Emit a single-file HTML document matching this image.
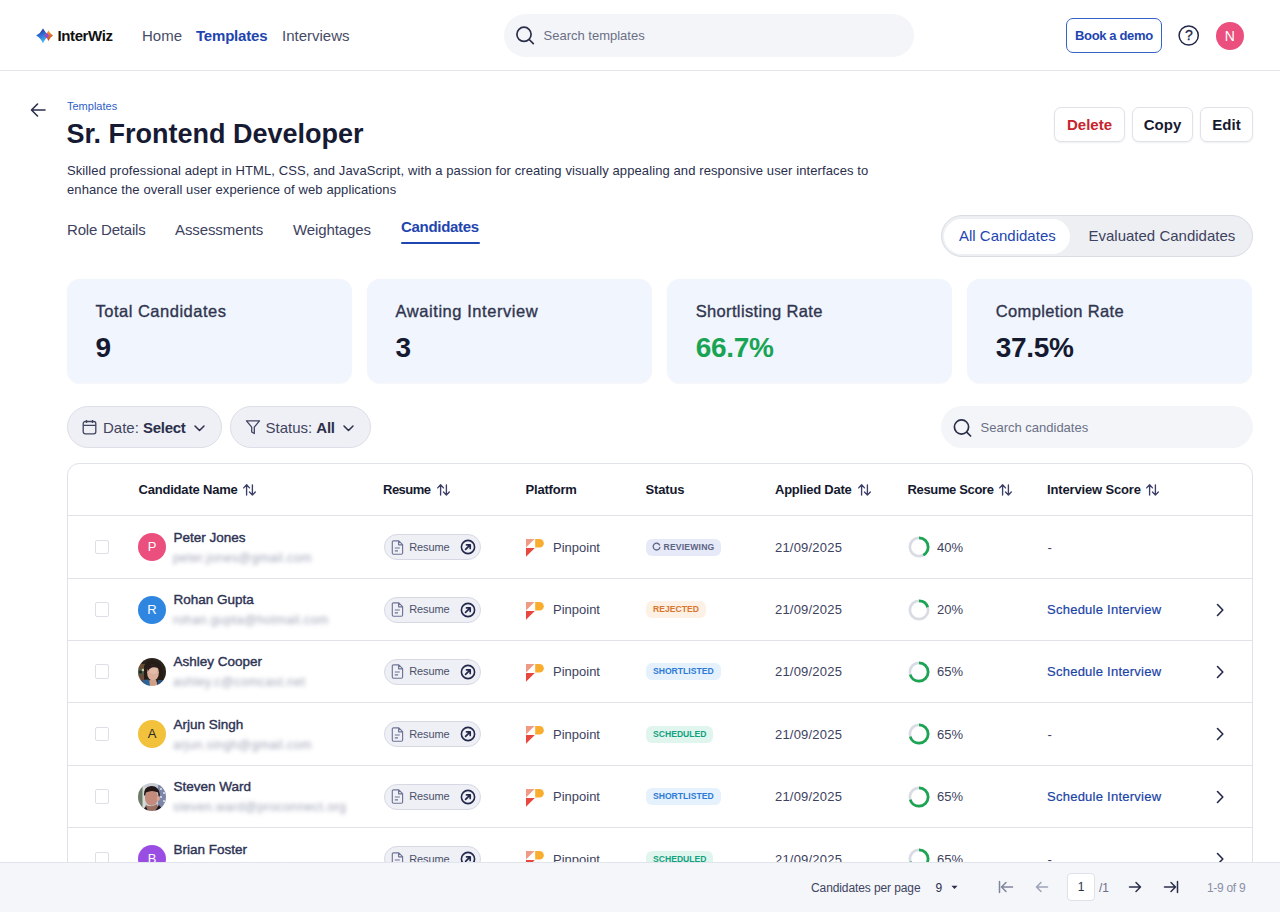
<!DOCTYPE html>
<html><head><meta charset="utf-8">
<style>
*{box-sizing:border-box;margin:0;padding:0}
html,body{width:1280px;height:912px;overflow:hidden;background:#fff;font-family:"Liberation Sans",Arial,sans-serif;color:#1b1f3b}
.a{position:absolute;white-space:nowrap}
.sb{-webkit-text-stroke:.35px currentColor}
.md{-webkit-text-stroke:.35px currentColor}
.rg{-webkit-text-stroke:.15px currentColor}
#hdr{position:absolute;left:0;top:0;width:1280px;height:71px;border-bottom:1px solid #e4e6eb;background:#fff}
.nav{font-size:15px;color:#474c66;top:27px}
.search{position:absolute;border-radius:22px;background:#f3f5f9}
.btn{position:absolute;top:106.5px;height:35px;border:1px solid #dfe2e8;border-radius:7px;background:#fff;font-weight:700;font-size:15px;line-height:33px;text-align:center;box-shadow:0 1px 2px rgba(20,30,60,.07)}
.card{position:absolute;top:278.5px;width:285.3px;height:104.5px;border-radius:13px;background:#f0f5fe;box-shadow:0 .5px 1px rgba(70,80,140,.05)}
.card .l{position:absolute;left:29px;top:23px;font-size:16.5px;color:#30354f;letter-spacing:.35px}
.card .v{position:absolute;left:29px;top:53px;font-size:28px;font-weight:700;color:#161a30;letter-spacing:-.3px}
.pill{position:absolute;top:406px;height:42px;border-radius:21px;background:#eff0f5;border:1px solid #dcdfe7}
.th{position:absolute;top:482px;font-size:13px;font-weight:700;color:#15192e}
.srt{position:absolute;top:483.5px}
.cb{position:absolute;width:14px;height:14px;border:1px solid #dcdfe6;border-radius:2px;background:#fff}
.av{position:absolute;width:28px;height:28px;border-radius:50%;color:#fff;font-size:13px;text-align:center;line-height:28px}
.nm{position:absolute;font-size:13.5px;color:#2e3354;-webkit-text-stroke:.4px #2e3354}
.em{position:absolute;font-size:12.5px;color:#a0a5b8;filter:blur(2.3px);letter-spacing:.38px}
.res{position:absolute;width:97px;height:26px;border-radius:13px;background:#eef0f6;border:1px solid #d6d9e3}
.res span{position:absolute;left:24.3px;top:5.5px;font-size:11px;color:#4a4f68;letter-spacing:-.15px}
.ppt{position:absolute;font-size:13px;color:#3d4260}
.st{position:absolute;height:17px;border-radius:6px;font-size:8.6px;font-weight:700;letter-spacing:0;line-height:17px;padding:0 7px}
.dt{position:absolute;font-size:13px;color:#3d4260;letter-spacing:.2px}
.pct{position:absolute;font-size:13px;color:#3d4260}
.is{position:absolute;font-size:13px;color:#1a43a6;letter-spacing:.25px;-webkit-text-stroke:.2px #1a43a6}
.dash{position:absolute;font-size:13px;color:#3d4260}
#ftr{position:absolute;left:0;top:862px;width:1280px;height:50px;background:#f4f6fa;border-top:1px solid #e1e4ea}
</style></head>
<body>
<div id="hdr">
  <svg class="a" style="left:35px;top:27px" width="20" height="18" viewBox="0 0 20 18">
    <defs><linearGradient id="lg1" x1="0.2" y1="0" x2="0.6" y2="1"><stop offset="0" stop-color="#1d2f8c"/><stop offset="0.45" stop-color="#2f6fd6"/><stop offset="1" stop-color="#46c6f2"/></linearGradient>
    <linearGradient id="lg2" x1="0.3" y1="0" x2="0.7" y2="1"><stop offset="0" stop-color="#f6a832"/><stop offset="0.5" stop-color="#e7772a"/><stop offset="1" stop-color="#b8331c"/></linearGradient>
    <linearGradient id="lg3" x1="0" y1="0" x2="1" y2="0"><stop offset="0" stop-color="#8a3ad8"/><stop offset="1" stop-color="#9a55d0"/></linearGradient></defs>
    <path d="M1.2 8.5 Q5.7 6.2 8 1.6 Q10.3 6.2 14.7 8.5 Q10.2 11.1 8 16.3 Q5.75 11.1 1.2 8.5 Z" fill="url(#lg1)"/>
    <path d="M9 8.5 Q12 6.85 13.5 3.6 Q15 6.85 18 8.5 Q15 10.4 13.5 13.9 Q12 10.4 9 8.5 Z" fill="url(#lg2)"/>
    <path d="M9 8.5 Q11 7.3 11.8 5.7 Q12.9 7.4 14.7 8.5 Q12.9 9.6 11.8 11.3 Q11 9.7 9 8.5 Z" fill="url(#lg3)"/>
  </svg>
  <div class="a" style="left:57.5px;top:27px;font-size:15px;font-weight:700;color:#111;letter-spacing:-.4px">InterWiz</div>
  <div class="a nav" style="left:142px">Home</div>
  <div class="a nav" style="left:196px;color:#1e45b0;font-weight:700;letter-spacing:-.2px">Templates</div>
  <div class="a nav" style="left:282px">Interviews</div>
  <div class="search" style="left:504px;top:14px;width:410px;height:43px"></div>
  <svg class="a" style="left:514px;top:24px" width="22" height="22" viewBox="0 0 22 22"><circle cx="10" cy="10.3" r="7.1" fill="none" stroke="#2b2f4a" stroke-width="1.7"/><path d="M15.2 15.5 L19.3 19.6" stroke="#2b2f4a" stroke-width="1.7" stroke-linecap="round"/></svg>
  <div class="a" style="left:543.5px;top:28px;font-size:13px;color:#6b7086">Search templates</div>
  <div class="a" style="left:1066px;top:18px;width:96px;height:35px;border:1.5px solid #3563c6;border-radius:7px"></div>
  <div class="a" style="left:1075px;top:28px;font-size:13px;font-weight:700;color:#1e45b0;letter-spacing:-.35px">Book a demo</div>
  <svg class="a" style="left:1177px;top:24px" width="23" height="23" viewBox="0 0 23 23"><circle cx="11.7" cy="11.5" r="9.6" fill="none" stroke="#23284a" stroke-width="1.5"/><text x="11.8" y="16.3" text-anchor="middle" font-family="Liberation Sans, sans-serif" font-size="14" fill="#23284a" stroke="#23284a" stroke-width=".3">?</text></svg>
  <div class="a" style="left:1215.5px;top:21.5px;width:28.5px;height:28.5px;border-radius:50%;background:#ea4f7e;color:#fff;font-size:14px;text-align:center;line-height:28.5px">N</div>
</div>

<!-- title area -->
<svg class="a" style="left:29px;top:101px" width="18" height="18" viewBox="0 0 18 18"><path d="M16 9 H3 M8.5 3 L2.5 9 L8.5 15" fill="none" stroke="#2b2f4a" stroke-width="1.6" stroke-linecap="round" stroke-linejoin="round"/></svg>
<div class="a" style="left:67px;top:100px;font-size:11px;color:#2f5fc7">Templates</div>
<div class="a" style="left:66.5px;top:118.5px;font-size:27px;font-weight:700;color:#161a33">Sr. Frontend Developer</div>
<div class="a" style="left:67px;top:160.5px;font-size:13px;color:#2a2f4d;line-height:19px;letter-spacing:.1px">Skilled professional adept in HTML, CSS, and JavaScript, with a passion for creating visually appealing and responsive user interfaces to<br>enhance the overall user experience of web applications</div>

<div class="btn" style="left:1054px;width:71px;color:#c6252c">Delete</div>
<div class="btn" style="left:1132px;width:61px;color:#161a30">Copy</div>
<div class="btn" style="left:1200px;width:53px;color:#161a30">Edit</div>

<div class="a" style="left:67px;top:221px;font-size:15px;color:#3d4260;letter-spacing:-.2px">Role Details</div>
<div class="a" style="left:175px;top:221px;font-size:15px;color:#3d4260;letter-spacing:-.1px">Assessments</div>
<div class="a" style="left:293px;top:221px;font-size:15px;color:#3d4260;letter-spacing:-.1px">Weightages</div>
<div class="a" style="left:401px;top:218px;font-size:15px;color:#1e45b0;font-weight:700;letter-spacing:-.3px">Candidates</div>
<div class="a" style="left:401px;top:242px;width:79px;height:2px;background:#1e45b0;border-radius:1px"></div>

<div class="a" style="left:941px;top:215px;width:312px;height:42px;border-radius:21px;background:#eeeff3;border:1px solid #d9dce4"></div>
<div class="a" style="left:944px;top:218.5px;width:126px;height:35px;border-radius:17.5px;background:#fff"></div>
<div class="a" style="left:959px;top:227px;font-size:15px;color:#1e45b0">All Candidates</div>
<div class="a" style="left:1088.5px;top:227px;font-size:15px;color:#3d4260">Evaluated Candidates</div>

<!-- cards -->
<div class="card" style="left:66.5px"><div class="l md" style="letter-spacing:.5px">Total Candidates</div><div class="v">9</div></div>
<div class="card" style="left:366.6px"><div class="l md" style="letter-spacing:.55px">Awaiting Interview</div><div class="v">3</div></div>
<div class="card" style="left:666.7px"><div class="l md">Shortlisting Rate</div><div class="v" style="color:#19a453">66.7%</div></div>
<div class="card" style="left:966.8px"><div class="l md">Completion Rate</div><div class="v">37.5%</div></div>

<!-- filters -->
<div class="pill" style="left:67px;width:155px"></div>
<svg class="a" style="left:82px;top:419px" width="15" height="16" viewBox="0 0 15 16"><rect x="1.2" y="2.5" width="12.6" height="12.3" rx="2" fill="none" stroke="#3f4460" stroke-width="1.3"/><path d="M1.2 6.3 H13.8 M4.5 1 V4 M10.5 1 V4" stroke="#3f4460" stroke-width="1.3"/></svg>
<div class="a" style="left:103px;top:419px;font-size:15px;color:#3f4460">Date: <b style="color:#2b2f4a;letter-spacing:-.3px">Select</b></div>
<svg class="a" style="left:192.5px;top:422.5px" width="13" height="10" viewBox="0 0 13 10"><path d="M2 3 L6.5 7.5 L11 3" fill="none" stroke="#2b2f4a" stroke-width="1.5" stroke-linecap="round" stroke-linejoin="round"/></svg>
<div class="pill" style="left:230px;width:141px"></div>
<svg class="a" style="left:244.5px;top:419px" width="16" height="16" viewBox="0 0 16 16"><path d="M1.5 1.8 H14.5 L9.3 8.2 V14.5 L6.7 13 V8.2 Z" fill="none" stroke="#3f4460" stroke-width="1.3" stroke-linejoin="round"/></svg>
<div class="a" style="left:265.5px;top:419px;font-size:15px;color:#3f4460">Status: <b style="color:#2b2f4a;letter-spacing:-.3px">All</b></div>
<svg class="a" style="left:341.5px;top:422.5px" width="13" height="10" viewBox="0 0 13 10"><path d="M2 3 L6.5 7.5 L11 3" fill="none" stroke="#2b2f4a" stroke-width="1.5" stroke-linecap="round" stroke-linejoin="round"/></svg>

<div class="search" style="left:941px;top:406px;width:312px;height:42px"></div>
<svg class="a" style="left:951px;top:417px" width="22" height="22" viewBox="0 0 22 22"><circle cx="10.5" cy="10" r="7.1" fill="none" stroke="#2b2f4a" stroke-width="1.7"/><path d="M15.7 15.2 L19.6 19" stroke="#2b2f4a" stroke-width="1.7" stroke-linecap="round"/></svg>
<div class="a" style="left:980.5px;top:420px;font-size:13px;color:#6b7086">Search candidates</div>

<!-- table -->
<div class="a" style="left:67px;top:463px;width:1186px;height:500px;border:1px solid #e0e2e9;border-radius:12px;background:#fff"></div>
<div class="a th" style="left:138.5px;letter-spacing:-0.2px">Candidate Name</div>
<svg class='a srt' style='left:243px' width='13' height='12' viewBox='0 0 13 12'><path d='M3.6 11.1 V0.8 M0.7 3.9 L3.6 0.8 L6.5 3.9 M9.4 0.8 V11.1 M6.5 8 L9.4 11.1 L12.3 8' fill='none' stroke='#3b3f66' stroke-width='1.35' stroke-linecap='round' stroke-linejoin='round'/></svg>
<div class="a th" style="left:383px;letter-spacing:-0.5px">Resume</div>
<svg class='a srt' style='left:436.5px' width='13' height='12' viewBox='0 0 13 12'><path d='M3.6 11.1 V0.8 M0.7 3.9 L3.6 0.8 L6.5 3.9 M9.4 0.8 V11.1 M6.5 8 L9.4 11.1 L12.3 8' fill='none' stroke='#3b3f66' stroke-width='1.35' stroke-linecap='round' stroke-linejoin='round'/></svg>
<div class="a th" style="left:525.5px;letter-spacing:-0.2px">Platform</div>
<div class="a th" style="left:645.5px;letter-spacing:-0.15px">Status</div>
<div class="a th" style="left:775px;letter-spacing:-0.25px">Applied Date</div>
<svg class='a srt' style='left:857.5px' width='13' height='12' viewBox='0 0 13 12'><path d='M3.6 11.1 V0.8 M0.7 3.9 L3.6 0.8 L6.5 3.9 M9.4 0.8 V11.1 M6.5 8 L9.4 11.1 L12.3 8' fill='none' stroke='#3b3f66' stroke-width='1.35' stroke-linecap='round' stroke-linejoin='round'/></svg>
<div class="a th" style="left:907.5px;letter-spacing:-0.35px">Resume Score</div>
<svg class='a srt' style='left:998.5px' width='13' height='12' viewBox='0 0 13 12'><path d='M3.6 11.1 V0.8 M0.7 3.9 L3.6 0.8 L6.5 3.9 M9.4 0.8 V11.1 M6.5 8 L9.4 11.1 L12.3 8' fill='none' stroke='#3b3f66' stroke-width='1.35' stroke-linecap='round' stroke-linejoin='round'/></svg>
<div class="a th" style="left:1047px;letter-spacing:-0.15px">Interview Score</div>
<svg class='a srt' style='left:1146px' width='13' height='12' viewBox='0 0 13 12'><path d='M3.6 11.1 V0.8 M0.7 3.9 L3.6 0.8 L6.5 3.9 M9.4 0.8 V11.1 M6.5 8 L9.4 11.1 L12.3 8' fill='none' stroke='#3b3f66' stroke-width='1.35' stroke-linecap='round' stroke-linejoin='round'/></svg>
<div class="a" style="left:68px;top:515px;width:1184px;height:1px;background:#e1e3e9"></div>
<div class="a cb" style="left:95px;top:539.5px;height:14.5px"></div>
<div class="a av" style="left:138px;top:533.0px;background:#ea4f7e;color:#fff">P</div>
<div class="a nm" style="left:173.5px;top:529.8px">Peter Jones</div>
<div class="a em" style="left:173px;top:550.5px">peter.jones@gmail.com</div>
<div class="a res" style="left:384px;top:534.0px"><svg class="a" style="left:6px;top:4.5px" width="13" height="15" viewBox="0 0 13 15"><path d="M2.5 0.8 H7.8 L11.6 4.6 V13 a1.2 1.2 0 0 1 -1.2 1.2 H2.5 a1.2 1.2 0 0 1 -1.2 -1.2 V2 a1.2 1.2 0 0 1 1.2 -1.2 Z M7.6 0.8 V4.8 H11.6 M3.8 8 H8.8 M3.8 10.8 H7" fill="none" stroke="#6e7396" stroke-width="1.15" stroke-linejoin="round"/></svg><span>Resume</span><svg class="a" style="left:75px;top:4px" width="16" height="16" viewBox="0 0 16 16"><circle cx="8" cy="8" r="6.6" fill="none" stroke="#23284a" stroke-width="1.6"/><path d="M5.6 10.4 L10.2 5.8 M6.5 5.8 H10.2 V9.5" fill="none" stroke="#23284a" stroke-width="1.7" stroke-linecap="round" stroke-linejoin="round"/></svg></div>
<svg class="a" style="left:526px;top:539.0px" width="19" height="18" viewBox="0 0 19 18"><path d="M0 0 H8.5 L0 8.5 Z" fill="#ee9a84"/><path d="M9.2 0 H13.5 A4.3 4.3 0 0 1 13.5 8.6 H9.2 Z" fill="#f9ad2f"/><path d="M0 9 H8.8 L0 17.8 Z" fill="#e8473e"/></svg>
<div class="a ppt" style="left:553px;top:539.5px">Pinpoint</div>
<div class="a st" style="left:646px;top:538.5px;background:#e6e9f8;color:#5d6383;padding:0 7px 0 6px;letter-spacing:.2px"><svg style="display:inline-block;vertical-align:-1px;margin-right:2.5px" width="9" height="9" viewBox="0 0 9 9"><path d="M7.6 3 A3.4 3.4 0 1 0 7.9 5.4" fill="none" stroke="#5d6383" stroke-width="1.3" stroke-linecap="round"/></svg>REVIEWING</div>
<div class="a dt" style="left:775px;top:539.8px">21/09/2025</div>
<svg class="a" style="left:907.5px;top:536.0px" width="22" height="22" viewBox="0 0 22 22"><circle cx="11" cy="11" r="9.15" fill="none" stroke="#d9dbe5" stroke-width="2.7"/><circle cx="11" cy="11" r="9.15" fill="none" stroke="#1aa551" stroke-width="2.7" stroke-dasharray="24.15 57.49" transform="rotate(-90 11 11)"/></svg>
<div class="a pct" style="left:937px;top:539.8px">40%</div>
<div class="a dash" style="left:1047.5px;top:539.8px">-</div>
<div class="a" style="left:68px;top:578px;width:1184px;height:1px;background:#e1e3e9"></div>
<div class="a cb" style="left:95px;top:602.0px;height:14.5px"></div>
<div class="a av" style="left:138px;top:595.5px;background:#2f86e0;color:#fff">R</div>
<div class="a nm" style="left:173.5px;top:592.3px">Rohan Gupta</div>
<div class="a em" style="left:173px;top:613.0px">rohan.gupta@hotmail.com</div>
<div class="a res" style="left:384px;top:596.5px"><svg class="a" style="left:6px;top:4.5px" width="13" height="15" viewBox="0 0 13 15"><path d="M2.5 0.8 H7.8 L11.6 4.6 V13 a1.2 1.2 0 0 1 -1.2 1.2 H2.5 a1.2 1.2 0 0 1 -1.2 -1.2 V2 a1.2 1.2 0 0 1 1.2 -1.2 Z M7.6 0.8 V4.8 H11.6 M3.8 8 H8.8 M3.8 10.8 H7" fill="none" stroke="#6e7396" stroke-width="1.15" stroke-linejoin="round"/></svg><span>Resume</span><svg class="a" style="left:75px;top:4px" width="16" height="16" viewBox="0 0 16 16"><circle cx="8" cy="8" r="6.6" fill="none" stroke="#23284a" stroke-width="1.6"/><path d="M5.6 10.4 L10.2 5.8 M6.5 5.8 H10.2 V9.5" fill="none" stroke="#23284a" stroke-width="1.7" stroke-linecap="round" stroke-linejoin="round"/></svg></div>
<svg class="a" style="left:526px;top:601.5px" width="19" height="18" viewBox="0 0 19 18"><path d="M0 0 H8.5 L0 8.5 Z" fill="#ee9a84"/><path d="M9.2 0 H13.5 A4.3 4.3 0 0 1 13.5 8.6 H9.2 Z" fill="#f9ad2f"/><path d="M0 9 H8.8 L0 17.8 Z" fill="#e8473e"/></svg>
<div class="a ppt" style="left:553px;top:602.0px">Pinpoint</div>
<div class="a st" style="left:646px;top:601.0px;background:#fdf0e5;color:#d9772e;">REJECTED</div>
<div class="a dt" style="left:775px;top:602.3px">21/09/2025</div>
<svg class="a" style="left:907.5px;top:598.5px" width="22" height="22" viewBox="0 0 22 22"><circle cx="11" cy="11" r="9.15" fill="none" stroke="#d9dbe5" stroke-width="2.7"/><circle cx="11" cy="11" r="9.15" fill="none" stroke="#1aa551" stroke-width="2.7" stroke-dasharray="11.50 57.49" transform="rotate(-90 11 11)"/></svg>
<div class="a pct" style="left:937px;top:602.3px">20%</div>
<div class="a is" style="left:1047px;top:602.3px">Schedule Interview</div>
<svg class="a" style="left:1214px;top:602.5px" width="12" height="14" viewBox="0 0 12 14"><path d="M3.5 1.5 L8.8 7 L3.5 12.5" fill="none" stroke="#23284a" stroke-width="1.6" stroke-linecap="round" stroke-linejoin="round"/></svg>
<div class="a" style="left:68px;top:640px;width:1184px;height:1px;background:#e1e3e9"></div>
<div class="a cb" style="left:95px;top:664.0px;height:14.5px"></div>
<svg class="a" style="left:138px;top:657.5px" width="28" height="28" viewBox="0 0 28 28"><defs><clipPath id="cf2"><circle cx="14" cy="14" r="14"/></clipPath><filter id="bf2" x="-10%" y="-10%" width="120%" height="120%"><feGaussianBlur stdDeviation="0.55"/></filter></defs><g clip-path="url(#cf2)"><g filter="url(#bf2)"><rect x="-2" y="-2" width="32" height="32" fill="#2a201d"/><rect x="-2" y="6" width="9" height="18" fill="#4f5540"/><circle cx="3" cy="8" r="2.6" fill="#6e4a2e"/><circle cx="5" cy="12" r="1.3" fill="#c9c7b0"/><circle cx="2.5" cy="14" r="1.6" fill="#1f2a22"/><rect x="-2" y="17" width="8" height="8" fill="#6a4a3a"/><path d="M6 8 Q9 2 15 2.5 Q22 3 24 10 L25 22 L20 24 L21 12 Q17 8 11 11 L9 20 L6 22 Z" fill="#251b18"/><ellipse cx="15" cy="14.5" rx="5.9" ry="8" fill="#dcae9a"/><ellipse cx="15.5" cy="12" rx="4" ry="4" fill="#e2bba9"/><path d="M11.5 22 L18 22 L20 28 L10 28 Z" fill="#cf9f88"/><path d="M3 28 L5 22 L11 21.5 L12 28 Z" fill="#2f6496"/><path d="M19 28 L20 22 L25 22 L27 28 Z" fill="#27507a"/><path d="M9 9 Q12 5.5 17 6 Q21 7 21.5 11 Q18 8.5 14 9.5 Q11 10.5 10 13 Z" fill="#2a1f1c"/></g></g></svg>
<div class="a nm" style="left:173.5px;top:654.3px">Ashley Cooper</div>
<div class="a em" style="left:173px;top:675.0px">ashley.c@comcast.net</div>
<div class="a res" style="left:384px;top:658.5px"><svg class="a" style="left:6px;top:4.5px" width="13" height="15" viewBox="0 0 13 15"><path d="M2.5 0.8 H7.8 L11.6 4.6 V13 a1.2 1.2 0 0 1 -1.2 1.2 H2.5 a1.2 1.2 0 0 1 -1.2 -1.2 V2 a1.2 1.2 0 0 1 1.2 -1.2 Z M7.6 0.8 V4.8 H11.6 M3.8 8 H8.8 M3.8 10.8 H7" fill="none" stroke="#6e7396" stroke-width="1.15" stroke-linejoin="round"/></svg><span>Resume</span><svg class="a" style="left:75px;top:4px" width="16" height="16" viewBox="0 0 16 16"><circle cx="8" cy="8" r="6.6" fill="none" stroke="#23284a" stroke-width="1.6"/><path d="M5.6 10.4 L10.2 5.8 M6.5 5.8 H10.2 V9.5" fill="none" stroke="#23284a" stroke-width="1.7" stroke-linecap="round" stroke-linejoin="round"/></svg></div>
<svg class="a" style="left:526px;top:663.5px" width="19" height="18" viewBox="0 0 19 18"><path d="M0 0 H8.5 L0 8.5 Z" fill="#ee9a84"/><path d="M9.2 0 H13.5 A4.3 4.3 0 0 1 13.5 8.6 H9.2 Z" fill="#f9ad2f"/><path d="M0 9 H8.8 L0 17.8 Z" fill="#e8473e"/></svg>
<div class="a ppt" style="left:553px;top:664.0px">Pinpoint</div>
<div class="a st" style="left:646px;top:663.0px;background:#e5f1fc;color:#2b7bd6;">SHORTLISTED</div>
<div class="a dt" style="left:775px;top:664.3px">21/09/2025</div>
<svg class="a" style="left:907.5px;top:660.5px" width="22" height="22" viewBox="0 0 22 22"><circle cx="11" cy="11" r="9.15" fill="none" stroke="#d9dbe5" stroke-width="2.7"/><circle cx="11" cy="11" r="9.15" fill="none" stroke="#1aa551" stroke-width="2.7" stroke-dasharray="40.24 57.49" transform="rotate(-90 11 11)"/></svg>
<div class="a pct" style="left:937px;top:664.3px">65%</div>
<div class="a is" style="left:1047px;top:664.3px">Schedule Interview</div>
<svg class="a" style="left:1214px;top:664.5px" width="12" height="14" viewBox="0 0 12 14"><path d="M3.5 1.5 L8.8 7 L3.5 12.5" fill="none" stroke="#23284a" stroke-width="1.6" stroke-linecap="round" stroke-linejoin="round"/></svg>
<div class="a" style="left:68px;top:702px;width:1184px;height:1px;background:#e1e3e9"></div>
<div class="a cb" style="left:95px;top:726.5px;height:14.5px"></div>
<div class="a av" style="left:138px;top:720.0px;background:#f2c23c;color:#2a2a2a">A</div>
<div class="a nm" style="left:173.5px;top:716.8px">Arjun Singh</div>
<div class="a em" style="left:173px;top:737.5px">arjun.singh@gmail.com</div>
<div class="a res" style="left:384px;top:721.0px"><svg class="a" style="left:6px;top:4.5px" width="13" height="15" viewBox="0 0 13 15"><path d="M2.5 0.8 H7.8 L11.6 4.6 V13 a1.2 1.2 0 0 1 -1.2 1.2 H2.5 a1.2 1.2 0 0 1 -1.2 -1.2 V2 a1.2 1.2 0 0 1 1.2 -1.2 Z M7.6 0.8 V4.8 H11.6 M3.8 8 H8.8 M3.8 10.8 H7" fill="none" stroke="#6e7396" stroke-width="1.15" stroke-linejoin="round"/></svg><span>Resume</span><svg class="a" style="left:75px;top:4px" width="16" height="16" viewBox="0 0 16 16"><circle cx="8" cy="8" r="6.6" fill="none" stroke="#23284a" stroke-width="1.6"/><path d="M5.6 10.4 L10.2 5.8 M6.5 5.8 H10.2 V9.5" fill="none" stroke="#23284a" stroke-width="1.7" stroke-linecap="round" stroke-linejoin="round"/></svg></div>
<svg class="a" style="left:526px;top:726.0px" width="19" height="18" viewBox="0 0 19 18"><path d="M0 0 H8.5 L0 8.5 Z" fill="#ee9a84"/><path d="M9.2 0 H13.5 A4.3 4.3 0 0 1 13.5 8.6 H9.2 Z" fill="#f9ad2f"/><path d="M0 9 H8.8 L0 17.8 Z" fill="#e8473e"/></svg>
<div class="a ppt" style="left:553px;top:726.5px">Pinpoint</div>
<div class="a st" style="left:646px;top:725.5px;background:#e1f5ef;color:#12a17e;">SCHEDULED</div>
<div class="a dt" style="left:775px;top:726.8px">21/09/2025</div>
<svg class="a" style="left:907.5px;top:723.0px" width="22" height="22" viewBox="0 0 22 22"><circle cx="11" cy="11" r="9.15" fill="none" stroke="#d9dbe5" stroke-width="2.7"/><circle cx="11" cy="11" r="9.15" fill="none" stroke="#1aa551" stroke-width="2.7" stroke-dasharray="40.24 57.49" transform="rotate(-90 11 11)"/></svg>
<div class="a pct" style="left:937px;top:726.8px">65%</div>
<div class="a dash" style="left:1047.5px;top:726.8px">-</div>
<svg class="a" style="left:1214px;top:727.0px" width="12" height="14" viewBox="0 0 12 14"><path d="M3.5 1.5 L8.8 7 L3.5 12.5" fill="none" stroke="#23284a" stroke-width="1.6" stroke-linecap="round" stroke-linejoin="round"/></svg>
<div class="a" style="left:68px;top:765px;width:1184px;height:1px;background:#e1e3e9"></div>
<div class="a cb" style="left:95px;top:789.0px;height:14.5px"></div>
<svg class="a" style="left:138px;top:782.5px" width="28" height="28" viewBox="0 0 28 28"><defs><clipPath id="cm4"><circle cx="14" cy="14" r="14"/></clipPath><filter id="bm4" x="-10%" y="-10%" width="120%" height="120%"><feGaussianBlur stdDeviation="0.55"/></filter></defs><g clip-path="url(#cm4)"><g filter="url(#bm4)"><rect x="-2" y="-2" width="32" height="32" fill="#c8ccd4"/><rect x="-2" y="2" width="7" height="24" fill="#6c7b68"/><rect x="4.5" y="4" width="3" height="20" fill="#d8dcd6"/><rect x="20" y="2" width="9" height="24" fill="#7c86a6"/><rect x="22" y="5" width="2" height="2" fill="#c9cfe0"/><rect x="25" y="9" width="2" height="2" fill="#c9cfe0"/><rect x="22" y="13" width="2" height="2" fill="#c9cfe0"/><rect x="25" y="17" width="2" height="2" fill="#c9cfe0"/><ellipse cx="13.5" cy="14.5" rx="6.6" ry="8.2" fill="#c48a7c"/><ellipse cx="20.3" cy="15.5" rx="1.6" ry="2.4" fill="#d7a696"/><path d="M6 12 Q5.5 3.5 13.5 3 Q21 3 22 12 L21 14 L20 9.5 Q14 6.5 8 9.5 L7 13 Z" fill="#201614"/><path d="M8 22 Q13 25 19 21 L22 28 L5 28 Z" fill="#9a6f62"/><path d="M4 28 L8 23.5 L10 28 Z M17 28 L21 22 L26 28 Z" fill="#1a1820"/></g></g></svg>
<div class="a nm" style="left:173.5px;top:779.3px">Steven Ward</div>
<div class="a em" style="left:173px;top:800.0px">steven.ward@proconnect.org</div>
<div class="a res" style="left:384px;top:783.5px"><svg class="a" style="left:6px;top:4.5px" width="13" height="15" viewBox="0 0 13 15"><path d="M2.5 0.8 H7.8 L11.6 4.6 V13 a1.2 1.2 0 0 1 -1.2 1.2 H2.5 a1.2 1.2 0 0 1 -1.2 -1.2 V2 a1.2 1.2 0 0 1 1.2 -1.2 Z M7.6 0.8 V4.8 H11.6 M3.8 8 H8.8 M3.8 10.8 H7" fill="none" stroke="#6e7396" stroke-width="1.15" stroke-linejoin="round"/></svg><span>Resume</span><svg class="a" style="left:75px;top:4px" width="16" height="16" viewBox="0 0 16 16"><circle cx="8" cy="8" r="6.6" fill="none" stroke="#23284a" stroke-width="1.6"/><path d="M5.6 10.4 L10.2 5.8 M6.5 5.8 H10.2 V9.5" fill="none" stroke="#23284a" stroke-width="1.7" stroke-linecap="round" stroke-linejoin="round"/></svg></div>
<svg class="a" style="left:526px;top:788.5px" width="19" height="18" viewBox="0 0 19 18"><path d="M0 0 H8.5 L0 8.5 Z" fill="#ee9a84"/><path d="M9.2 0 H13.5 A4.3 4.3 0 0 1 13.5 8.6 H9.2 Z" fill="#f9ad2f"/><path d="M0 9 H8.8 L0 17.8 Z" fill="#e8473e"/></svg>
<div class="a ppt" style="left:553px;top:789.0px">Pinpoint</div>
<div class="a st" style="left:646px;top:788.0px;background:#e5f1fc;color:#2b7bd6;">SHORTLISTED</div>
<div class="a dt" style="left:775px;top:789.3px">21/09/2025</div>
<svg class="a" style="left:907.5px;top:785.5px" width="22" height="22" viewBox="0 0 22 22"><circle cx="11" cy="11" r="9.15" fill="none" stroke="#d9dbe5" stroke-width="2.7"/><circle cx="11" cy="11" r="9.15" fill="none" stroke="#1aa551" stroke-width="2.7" stroke-dasharray="40.24 57.49" transform="rotate(-90 11 11)"/></svg>
<div class="a pct" style="left:937px;top:789.3px">65%</div>
<div class="a is" style="left:1047px;top:789.3px">Schedule Interview</div>
<svg class="a" style="left:1214px;top:789.5px" width="12" height="14" viewBox="0 0 12 14"><path d="M3.5 1.5 L8.8 7 L3.5 12.5" fill="none" stroke="#23284a" stroke-width="1.6" stroke-linecap="round" stroke-linejoin="round"/></svg>
<div class="a" style="left:68px;top:827px;width:1184px;height:1px;background:#e1e3e9"></div>
<div class="a cb" style="left:95px;top:851.5px;height:14.5px"></div>
<div class="a av" style="left:138px;top:845.0px;background:#9a4de2;color:#fff">B</div>
<div class="a nm" style="left:173.5px;top:841.8px">Brian Foster</div>
<div class="a em" style="left:173px;top:862.5px">brian.foster@gmail.com</div>
<div class="a res" style="left:384px;top:846.0px"><svg class="a" style="left:6px;top:4.5px" width="13" height="15" viewBox="0 0 13 15"><path d="M2.5 0.8 H7.8 L11.6 4.6 V13 a1.2 1.2 0 0 1 -1.2 1.2 H2.5 a1.2 1.2 0 0 1 -1.2 -1.2 V2 a1.2 1.2 0 0 1 1.2 -1.2 Z M7.6 0.8 V4.8 H11.6 M3.8 8 H8.8 M3.8 10.8 H7" fill="none" stroke="#6e7396" stroke-width="1.15" stroke-linejoin="round"/></svg><span>Resume</span><svg class="a" style="left:75px;top:4px" width="16" height="16" viewBox="0 0 16 16"><circle cx="8" cy="8" r="6.6" fill="none" stroke="#23284a" stroke-width="1.6"/><path d="M5.6 10.4 L10.2 5.8 M6.5 5.8 H10.2 V9.5" fill="none" stroke="#23284a" stroke-width="1.7" stroke-linecap="round" stroke-linejoin="round"/></svg></div>
<svg class="a" style="left:526px;top:851.0px" width="19" height="18" viewBox="0 0 19 18"><path d="M0 0 H8.5 L0 8.5 Z" fill="#ee9a84"/><path d="M9.2 0 H13.5 A4.3 4.3 0 0 1 13.5 8.6 H9.2 Z" fill="#f9ad2f"/><path d="M0 9 H8.8 L0 17.8 Z" fill="#e8473e"/></svg>
<div class="a ppt" style="left:553px;top:851.5px">Pinpoint</div>
<div class="a st" style="left:646px;top:850.5px;background:#e1f5ef;color:#12a17e;">SCHEDULED</div>
<div class="a dt" style="left:775px;top:851.8px">21/09/2025</div>
<svg class="a" style="left:907.5px;top:848.0px" width="22" height="22" viewBox="0 0 22 22"><circle cx="11" cy="11" r="9.15" fill="none" stroke="#d9dbe5" stroke-width="2.7"/><circle cx="11" cy="11" r="9.15" fill="none" stroke="#1aa551" stroke-width="2.7" stroke-dasharray="40.24 57.49" transform="rotate(-90 11 11)"/></svg>
<div class="a pct" style="left:937px;top:851.8px">65%</div>
<div class="a dash" style="left:1047.5px;top:851.8px">-</div>
<svg class="a" style="left:1214px;top:852.0px" width="12" height="14" viewBox="0 0 12 14"><path d="M3.5 1.5 L8.8 7 L3.5 12.5" fill="none" stroke="#23284a" stroke-width="1.6" stroke-linecap="round" stroke-linejoin="round"/></svg>

<div id="ftr">
  <div class="a" style="left:811px;top:17.7px;font-size:12px;color:#3f4460;letter-spacing:-.1px">Candidates per page</div>
  <div class="a" style="left:935.5px;top:17.7px;font-size:12px;color:#2b2f4a">9</div>
  <svg class="a" style="left:951px;top:22px" width="7" height="5" viewBox="0 0 7 5"><path d="M0.5 0.8 H6.5 L3.5 4 Z" fill="#2b2f4a"/></svg>
  <svg class="a" style="left:996px;top:15px" width="18" height="18" viewBox="0 0 18 18"><path d="M3.5 3.5 V14.5 M16.5 9 H5.5 M10 4.5 L5.5 9 L10 13.5" fill="none" stroke="#80859c" stroke-width="1.5" stroke-linecap="round" stroke-linejoin="round"/></svg>
  <svg class="a" style="left:1033px;top:15px" width="18" height="18" viewBox="0 0 18 18"><path d="M14.5 9 H3.5 M8 4.5 L3.5 9 L8 13.5" fill="none" stroke="#9ea2b6" stroke-width="1.5" stroke-linecap="round" stroke-linejoin="round"/></svg>
  <div class="a" style="left:1067px;top:10px;width:28px;height:28px;background:#fff;border:1px solid #dfe2e8;border-radius:4px;font-size:12px;text-align:center;line-height:26px;color:#2b2f4a">1</div>
  <div class="a" style="left:1099px;top:18px;font-size:12px;color:#6b7086">/1</div>
  <svg class="a" style="left:1126px;top:15px" width="18" height="18" viewBox="0 0 18 18"><path d="M3.5 9 H14.5 M10 4.5 L14.5 9 L10 13.5" fill="none" stroke="#2b2f4a" stroke-width="1.5" stroke-linecap="round" stroke-linejoin="round"/></svg>
  <svg class="a" style="left:1163px;top:15px" width="18" height="18" viewBox="0 0 18 18"><path d="M14.5 3.5 V14.5 M1.5 9 H12.5 M8 4.5 L12.5 9 L8 13.5" fill="none" stroke="#2b2f4a" stroke-width="1.5" stroke-linecap="round" stroke-linejoin="round"/></svg>
  <div class="a" style="left:1207px;top:18px;font-size:12px;color:#8a8fa6;letter-spacing:-.3px">1-9 of 9</div>
</div>
</body></html>
